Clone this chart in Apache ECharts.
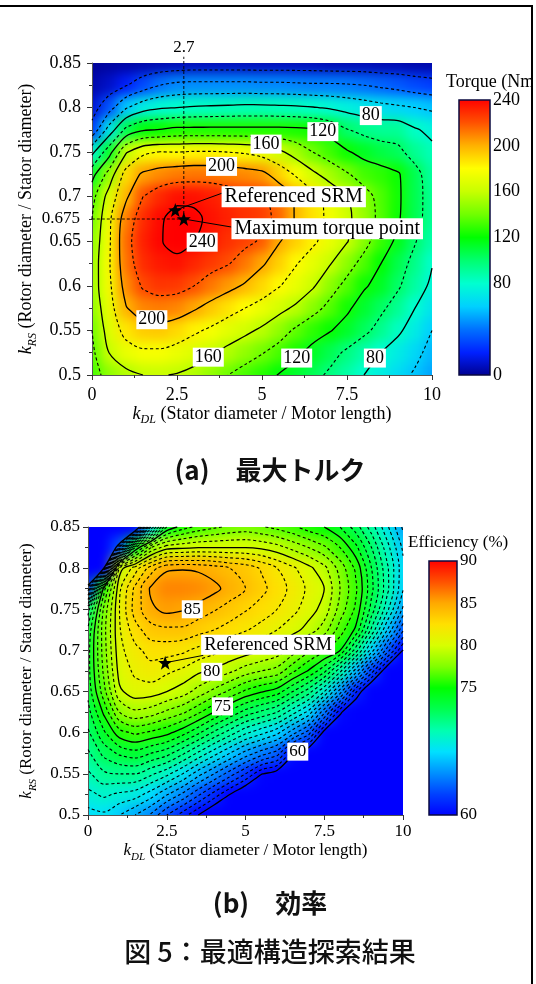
<!DOCTYPE html>
<html><head><meta charset="utf-8">
<script src="https://cdn.jsdelivr.net/npm/echarts@6/dist/echarts.min.js"></script>
<style>
html,body{margin:0;padding:0;background:#fff;}
#page{position:relative;width:536px;height:984px;overflow:hidden;background:#fff;}
.clip{position:absolute;overflow:hidden;}
.heat{position:absolute;filter:blur(6px);}
#main{position:absolute;left:0;top:0;width:531px;height:984px;}
#frameTop{position:absolute;left:0;top:5px;width:533px;height:2px;background:#000;}
#frameRight{position:absolute;left:531px;top:5px;width:2px;height:979px;background:#000;}
</style></head>
<body><div id="page">
<div class="clip" id="clipT"><div class="heat" id="heatT"></div></div>
<div class="clip" id="clipE"><div class="heat" id="heatE"></div></div>
<div id="main"></div>
<div id="frameTop"></div><div id="frameRight"></div>
</div>
<script>
// ---------------- data ----------------
const kDL = [0,0.5,1,1.5,2,2.5,3,3.5,4,4.5,5,5.5,6,6.5,7,7.5,8,8.5,9,9.5,10];
const kRS = [0.85,0.825,0.8,0.775,0.75,0.725,0.7,0.675,0.65,0.625,0.6,0.575,0.55,0.525,0.5];
// maximum torque (Nm); rows follow kRS (top to bottom), columns follow kDL
const torque = [
 [  2,  3,  4,  5,  6,  7,  8,  8,  8,  8,  8,  8,  8,  8,  7,  7,  7,  6,  6,  5,  5],
 [  5, 10, 19, 30, 40, 45, 46, 46, 46, 46, 45, 45, 44, 43, 43, 42, 40, 37, 34, 30, 27],
 [ 12, 32, 58, 72, 78, 80, 82, 83, 84, 85, 85, 84, 83, 81, 78, 74, 70, 66, 63, 60, 57],
 [ 26, 68,105,118,121,125,125,125,125,125,125,125,124,122,114,101, 95, 92, 92, 82, 75],
 [ 75,112,158,176,181,180,182,182,180,178,173,164,152,140,131,122,114,108,104, 93, 85],
 [113,148,188,203,208,211,212,212,210,208,205,192,178,164,152,142,132,128,122,106, 90],
 [133,168,197,220,230,236,236,233,229,226,223,213,198,186,174,160,147,134,123,106, 93],
 [140,176,210,229,238,246,244,236,232,228,225,216,198,187,176,164,150,135,122,106, 92],
 [146,177,214,232,239,245,240,234,228,224,218,201,192,183,172,161,146,130,116,101, 88],
 [149,178,212,229,234,236,231,226,221,212,202,192,181,171,161,147,134,120,107, 95, 81],
 [150,176,207,222,227,226,220,212,205,198,190,181,172,162,147,135,122,114,102, 90, 76],
 [147,172,199,209,211,209,202,194,187,180,173,165,157,146,135,123,112,103, 93, 80, 68],
 [140,168,186,193,194,190,183,177,170,164,157,148,137,128,121,113,104, 94, 83, 72, 60],
 [136,160,172,177,177,173,168,162,155,148,141,133,124,114,106, 97, 88, 80, 72, 64, 55],
 [132,147,155,160,161,159,155,148,140,133,127,119,112,105, 97, 89, 80, 73, 65, 58, 51]
];
// efficiency (%), same grid
const efficiency = [
 [45,45,48,57,68,74,75.5,76.3,76.8,77.2,77.4,77.1,76.7,76.2,75.5,75,74,72.5,70.5,68.2,65.8],
 [45,50,63,74,78,79.6,79.8,80,80,80,80,79.8,79.4,78.7,78,77.2,76,74.3,72,69.4,66.8],
 [50,60,79.5,81.5,83.5,84.8,84.9,84.8,84.5,84,83.6,82.9,82,81.2,80.3,79.3,77.6,75.8,73,70.2,67.3],
 [62,75.5,80.8,83.3,85.2,86,86,85.8,85.3,84.6,84,83.3,82.5,81.7,80.8,80,78,76.2,73.3,70.3,67.1],
 [71.5,77.2,81,83.5,84.8,85.3,85.1,84.6,84.1,83.6,83.1,82.6,82,81.3,80.5,79.6,77.6,75.8,72.6,69.3,65.8],
 [73.2,77.6,80.9,82.6,83.6,83.8,83.8,83.4,83,82.6,82.1,81.6,81,80.4,79.6,78.5,76.5,74.8,70.8,67,63.2],
 [73.6,77.5,80.7,81.7,82.4,82.4,82.2,81.7,81.3,80.9,80.5,80.1,79.6,78.5,77.2,76.2,75,71.5,67.5,63.5,59.9],
 [73.6,77.2,80.4,81.2,81.6,81.2,80.8,80.2,79.8,79.2,78.5,78,77.6,76.2,74.9,73.3,70.3,66.5,62.5,58.8,56.5],
 [73.3,76.6,79.8,80.6,80.5,80,79.5,78.6,77.7,76.8,75.8,75.1,74.5,73,71.5,69,65.5,61.2,57.8,55.5,55],
 [72.6,75.2,78,78.8,78.5,77.8,77.2,76.2,75,73.8,72.6,71.8,71,69.4,67.7,64.3,60.3,58,55.2,55,55],
 [71.8,73.8,75.6,76.2,75.8,75.3,74.4,73.2,71.8,70.5,69.2,68.3,67.3,65.4,63.5,59.5,58,55.5,55,55,55],
 [70.8,72.3,73.2,73.6,73,72.4,71.2,69.8,68.4,67,65.6,64.5,63.5,60.4,58.7,57,55.5,55,55,55,55],
 [69.8,70.8,71,71,70.2,69.3,68,66.4,65,63.5,62,60.1,59.3,56.5,55.5,55,55,55,55,55,55],
 [68.7,69.2,68.8,68.5,67.5,66.1,64.8,63.2,61.6,60,58.5,56.5,56,55,55,55,55,55,55,55,55],
 [67.6,67.8,67,66,64.8,63,61.5,60,58.5,56.8,55.5,55,55,55,55,55,55,55,55,55,55]
];
const torqueSolidLevels = [80,120,160,200,240];
const torqueDashedLevels = [20,40,60,100,140,180,220];
const effSolidLevels = [60,75,80,85];
const effDashedLevels = [61,62,63,64,65,66,67,68,69,70,71,72,73,74,76,77,78,79,81,82,83,84];
const torqueBarTicks = [0,80,120,160,200,240];
const effBarTicks = [60,75,80,85,90];
const torqueContourLabels = [[8.2,0.791,'80'],[6.79,0.773,'120'],[5.12,0.759,'160'],[3.81,0.734,'200'],[3.24,0.649,'240'],[1.76,0.562,'200'],[3.42,0.520,'160'],[6.02,0.519,'120'],[8.32,0.519,'80']];
const effContourLabels = [[3.31,0.750,'85'],[3.93,0.674,'80'],[4.27,0.632,'75'],[6.66,0.577,'60']];
const refSRM = [2.45,0.685];
const maxTorquePoint = [2.7,0.675];
const torqueAnno = [{text:'Referenced SRM', at:[3.81,0.700], from:refSRM, to:[3.9,0.705]},
                    {text:'Maximum torque point', at:[4.1,0.664], from:maxTorquePoint, to:[4.1,0.666]}];
const effAnno = [{text:'Referenced SRM', at:[3.59,0.707], from:refSRM, to:[3.66,0.694]}];

// ---------------- styles / layout ----------------
const F = '"Liberation Serif","Times New Roman",serif';
const CJK = '"Noto Sans CJK JP","Noto Sans CJK SC",sans-serif';
const torqueColors = ['#00008f','#0020ff','#0070ff','#00d0ff','#00ffd0','#00ff70','#00ff00','#70ff00','#c8ff00','#ffff00','#ffb000','#ff5000','#ff0000'];
const effColors = ['#0000ff','#0040ff','#0090ff','#00e0ff','#00ffb0','#00ff50','#00ff00','#80ff00','#d8ff00','#ffe000','#ffa800','#ff5000','#ff0000'];
const PT = {left:92, top:63, width:340, height:312};
const PE = {left:88, top:527, width:315, height:288};
const BT = {left:459, top:100, width:31, height:275};
const BE = {left:429, top:561, width:28, height:254};
const M = 24;

// ---------------- heat layers ----------------
function setupHeat(clipId, heatId, P) {
  const c = document.getElementById(clipId), h = document.getElementById(heatId);
  Object.assign(c.style, {left:P.left+'px', top:P.top+'px', width:P.width+'px', height:P.height+'px'});
  Object.assign(h.style, {left:-M+'px', top:-M+'px', width:(P.width+2*M)+'px', height:(P.height+2*M)+'px'});
  return h;
}
function heatOption(xs, ys, rows, min, max, colors, outColor) {
  const data = [];
  ys.forEach((y, j) => xs.forEach((x, i) => data.push([x, y, rows[j][i]])));
  const dx = xs[1]-xs[0], dy = Math.abs(ys[1]-ys[0]);
  const xmin = Math.min(...xs), xmax = Math.max(...xs), ymin = Math.min(...ys), ymax = Math.max(...ys);
  return {
    animation:false,
    grid:{left:M, top:M, right:M, bottom:M},
    xAxis:{type:'value', min:xmin, max:xmax, show:false},
    yAxis:{type:'value', min:ymin, max:ymax, show:false},
    visualMap:{type:'continuous', show:false, min, max, dimension:2, seriesIndex:0,
               inRange:{color:colors}, outOfRange:{color:outColor}},
    series:[{type:'custom', clip:false, data, encode:{x:0, y:1},
      renderItem(params, api) {
        const x = api.value(0), y = api.value(1);
        const c = api.coord([x, y]); const s = api.size([dx, dy]);
        let x0 = c[0]-s[0]/2, x1 = c[0]+s[0]/2, y0 = c[1]-s[1]/2, y1 = c[1]+s[1]/2;
        if (x <= xmin+1e-9) x0 -= M; if (x >= xmax-1e-9) x1 += M;
        if (y <= ymin+1e-9) y1 += M; if (y >= ymax-1e-9) y0 -= M;
        return {type:'rect', shape:{x:x0-0.5, y:y0-0.5, width:x1-x0+1, height:y1-y0+1}, style:{fill:api.visual('color')}};
      }}]
  };
}
echarts.init(setupHeat('clipT','heatT',PT), null, {renderer:'canvas'}).setOption(heatOption(kDL, kRS, torque, 0, 240, torqueColors, '#00008f'));
echarts.init(setupHeat('clipE','heatE',PE), null, {renderer:'canvas'}).setOption(heatOption(kDL, kRS, efficiency, 60, 90, effColors, '#0000ff'));

// ---------------- contours (marching squares on the grid) ----------------
function contourLines(xs, ys, Z, level) {
  const segs = [];
  const pt = (i0,j0,i1,j1) => { const a = Z[j0][i0], b = Z[j1][i1]; const t = (level-a)/(b-a); return [xs[i0]+t*(xs[i1]-xs[i0]), ys[j0]+t*(ys[j1]-ys[j0])]; };
  const up = v => v >= level;
  for (let j = 0; j < ys.length-1; j++) for (let i = 0; i < xs.length-1; i++) {
    const vA = Z[j][i], vB = Z[j][i+1], vC = Z[j+1][i+1], vD = Z[j+1][i];
    const sA = up(vA), sB = up(vB), sC = up(vC), sD = up(vD);
    const E = {
      AB:['h'+i+'_'+j, sA!==sB, () => pt(i,j,i+1,j)],
      BC:['v'+(i+1)+'_'+j, sB!==sC, () => pt(i+1,j,i+1,j+1)],
      DC:['h'+i+'_'+(j+1), sD!==sC, () => pt(i,j+1,i+1,j+1)],
      AD:['v'+i+'_'+j, sA!==sD, () => pt(i,j,i,j+1)]
    };
    const crossed = Object.keys(E).filter(k => E[k][1]);
    if (!crossed.length) continue;
    const mk = (a, b) => segs.push({keys:[E[a][0], E[b][0]], pts:[E[a][2](), E[b][2]()]});
    if (crossed.length === 2) mk(crossed[0], crossed[1]);
    else {
      const sM = up((vA+vB+vC+vD)/4);
      if (sA!==sM) mk('AB','AD'); if (sB!==sM) mk('AB','BC');
      if (sC!==sM) mk('BC','DC'); if (sD!==sM) mk('DC','AD');
    }
  }
  const adj = {};
  segs.forEach((s, n) => s.keys.forEach(k => (adj[k] = adj[k] || []).push(n)));
  const used = new Array(segs.length).fill(false);
  const follow = (n, key) => {
    const line = []; let first = true;
    while (n !== undefined && !used[n]) {
      used[n] = true;
      const s = segs[n]; const e = s.keys[0] === key ? 0 : 1; const o = 1-e;
      if (first) { line.push(s.pts[e]); first = false; }
      line.push(s.pts[o]); key = s.keys[o];
      n = (adj[key] || []).find(m => !used[m]);
    }
    return line;
  };
  const lines = [];
  Object.keys(adj).forEach(k => { if (adj[k].length === 1 && !used[adj[k][0]]) lines.push(follow(adj[k][0], k)); });
  segs.forEach((s, n) => { if (!used[n]) lines.push(follow(n, s.keys[0])); });
  return lines;
}
function contourSeries(Z, levels, dashed, ax) {
  const out = [];
  levels.forEach(lv => contourLines(kDL, kRS, Z, lv).forEach(line => out.push({
    type:'line', xAxisIndex:ax, yAxisIndex:ax, data:line, symbol:'none', showSymbol:false, smooth:0.3, silent:true,
    lineStyle:{color:'#000', width:dashed ? 1.1 : 1.3, type:dashed ? [3,2.5] : 'solid'}, z:3
  })));
  return out;
}

// ---------------- main chart ----------------
const STAR = 'path://M0,-10 L2.35,-3.24 L9.51,-3.09 L3.8,1.24 L5.88,8.09 L0,4 L-5.88,8.09 L-3.8,1.24 L-9.51,-3.09 L-2.35,-3.24 Z';
function axisName(sub, rest, fs) {
  return {
    text:'{k|k}{s|' + sub + '}{t| ' + rest + '}',
    style:{rich:{
      k:{fontFamily:F, fontStyle:'italic', fontSize:fs, color:'#000', lineHeight:24},
      s:{fontFamily:F, fontStyle:'italic', fontSize:Math.round(fs*0.66), color:'#000', lineHeight:12, verticalAlign:'bottom'},
      t:{fontFamily:F, fontSize:fs, color:'#000', lineHeight:24}
    }}
  };
}
function plotAxes(gi, fs, lm, xm, xGap, yGap) {
  const xn = axisName('DL', '(Stator diameter / Motor length)', fs);
  const yn = axisName('RS', '(Rotor diameter / Stator diameter)', fs);
  const common = {axisLine:{show:true, lineStyle:{color:'#555', width:1}}, splitLine:{show:false},
    axisTick:{show:true, length:5, lineStyle:{color:'#333'}}, minorTick:{show:true, splitNumber:2, length:3, lineStyle:{color:'#333'}}};
  return {
    x: Object.assign({gridIndex:gi, type:'value', min:0, max:10, interval:2.5,
      axisLabel:{fontFamily:F, fontSize:fs, color:'#000', margin:xm},
      name:xn.text, nameLocation:'middle', nameGap:xGap, nameTextStyle:xn.style}, common),
    y: Object.assign({gridIndex:gi, type:'value', min:0.5, max:0.85, interval:0.05,
      axisLabel:{fontFamily:F, fontSize:fs, color:'#000', margin:lm},
      name:yn.text, nameLocation:'middle', nameGap:yGap, nameTextStyle:yn.style}, common)
  };
}
function barAxes(gi, min, max, interval, ticks, fs) {
  return {
    x:{gridIndex:gi, type:'value', min:0, max:1, show:false},
    y:{gridIndex:gi, type:'value', min, max, interval, position:'right',
       axisLine:{show:false}, axisTick:{show:false}, splitLine:{show:false},
       axisLabel:{fontFamily:F, fontSize:fs, color:'#000', margin:3, formatter:v => ticks.includes(v) ? String(v) : ''}}
  };
}
const a0 = plotAxes(0, 18, 11, 11, 27, 52);
const a1 = barAxes(1, 0, 240, 40, torqueBarTicks, 18);
const a2 = plotAxes(2, 17, 8, 8, 24, 49);
const a3 = barAxes(3, 60, 90, 5, effBarTicks, 17);

const HIDDEN = {color:'rgba(0,0,0,0)', opacity:1};
function labelScatter(ax, items, fs) {
  return {type:'scatter', xAxisIndex:ax, yAxisIndex:ax, symbolSize:0.1, silent:true, z:6, itemStyle:HIDDEN,
    data:items.map(d => ({value:[d[0], d[1]], label:{formatter:d[2]}})),
    label:{show:true, position:'inside', color:'#000', opacity:1, fontFamily:F, fontSize:fs, backgroundColor:'#ffffff', padding:[1,2,0,2]}};
}
function annoSeries(ax, annos, fs) {
  const out = [];
  annos.forEach(a => {
    out.push({type:'line', xAxisIndex:ax, yAxisIndex:ax, data:[a.from, a.to], symbol:'none', silent:true, z:5,
      lineStyle:{color:'#000', width:1}});
    out.push({type:'scatter', xAxisIndex:ax, yAxisIndex:ax, symbolSize:0.1, silent:true, z:7, itemStyle:HIDDEN,
      data:[{value:a.at, label:{formatter:a.text}}],
      label:{show:true, position:'right', distance:0, color:'#000', opacity:1, fontFamily:F, fontSize:fs, backgroundColor:'#ffffff', padding:[1,3,0,3]}});
  });
  return out;
}
function starSeries(ax, pts) {
  return {type:'scatter', xAxisIndex:ax, yAxisIndex:ax, symbol:STAR, symbolSize:14, silent:true, z:8,
    itemStyle:{color:'#000', opacity:1}, data:pts};
}
function gradient(colors) {
  return new echarts.graphic.LinearGradient(0, 1, 0, 0, colors.map((c, i) => ({offset:i/(colors.length-1), color:c})));
}

const series = [].concat(
  contourSeries(torque, torqueDashedLevels, true, 0),
  contourSeries(torque, torqueSolidLevels, false, 0),
  contourSeries(efficiency, effDashedLevels, true, 2),
  contourSeries(efficiency, effSolidLevels, false, 2),
  [
    {type:'line', xAxisIndex:0, yAxisIndex:0, data:[[maxTorquePoint[0], maxTorquePoint[1]], [maxTorquePoint[0], 0.857]], clip:false, symbol:'none', silent:true, z:4,
     lineStyle:{color:'#000', width:0.9, type:[3,2]}},
    {type:'line', xAxisIndex:0, yAxisIndex:0, data:[[-0.3, maxTorquePoint[1]], [maxTorquePoint[0], maxTorquePoint[1]]], clip:false, symbol:'none', silent:true, z:4,
     lineStyle:{color:'#000', width:0.9, type:[3,2]}},
    {type:'scatter', xAxisIndex:0, yAxisIndex:0, symbolSize:0.1, silent:true, clip:false, itemStyle:HIDDEN,
     data:[{value:[maxTorquePoint[0], 0.85], label:{formatter:String(maxTorquePoint[0]), position:'top', distance:7}},
           {value:[0, maxTorquePoint[1]], label:{formatter:String(maxTorquePoint[1]), position:'left', distance:12}}],
     label:{show:true, color:'#000', opacity:1, fontFamily:F, fontSize:17}},
    labelScatter(0, torqueContourLabels, 18),
    labelScatter(2, effContourLabels, 17)
  ],
  annoSeries(0, torqueAnno, 20),
  annoSeries(2, effAnno, 18.5),
  [starSeries(0, [refSRM, maxTorquePoint]), starSeries(2, [refSRM])]
);

const chart = echarts.init(document.getElementById('main'), null, {renderer:'canvas'});
chart.setOption({
  animation:false,
  grid:[Object.assign({}, PT), Object.assign({}, BT), Object.assign({}, PE), Object.assign({}, BE)],
  xAxis:[a0.x, a1.x, a2.x, a3.x],
  yAxis:[a0.y, a1.y, a2.y, a3.y],
  series,
  graphic:[
    {type:'rect', z:1, shape:{x:BT.left, y:BT.top, width:BT.width, height:BT.height}, style:{fill:gradient(torqueColors), stroke:'#0a0a40', lineWidth:1.5}},
    {type:'rect', z:1, shape:{x:BE.left, y:BE.top, width:BE.width, height:BE.height}, style:{fill:gradient(effColors), stroke:'#0a0a40', lineWidth:1.5}},
    {type:'text', z:5, style:{x:446, y:82, text:'Torque (Nm)', fontFamily:F, fontSize:18, fill:'#000', textVerticalAlign:'middle'}},
    {type:'text', z:5, style:{x:408, y:543, text:'Efficiency (%)', fontFamily:F, fontSize:17, fill:'#000', textVerticalAlign:'middle'}},
    {type:'text', z:5, style:{x:270, y:470, text:'(a)\u3000最大トルク', fontFamily:CJK, fontSize:26, fontWeight:'bold', fill:'#111', textAlign:'center', textVerticalAlign:'middle'}},
    {type:'text', z:5, style:{x:270, y:903, text:'(b)\u3000効率', fontFamily:CJK, fontSize:26, fontWeight:'bold', fill:'#111', textAlign:'center', textVerticalAlign:'middle'}},
    {type:'text', z:5, style:{x:270, y:952, text:'図 5：最適構造探索結果', fontFamily:CJK, fontSize:27, fontWeight:500, fill:'#111', textAlign:'center', textVerticalAlign:'middle'}}
  ]
});
</script>
</body></html>
